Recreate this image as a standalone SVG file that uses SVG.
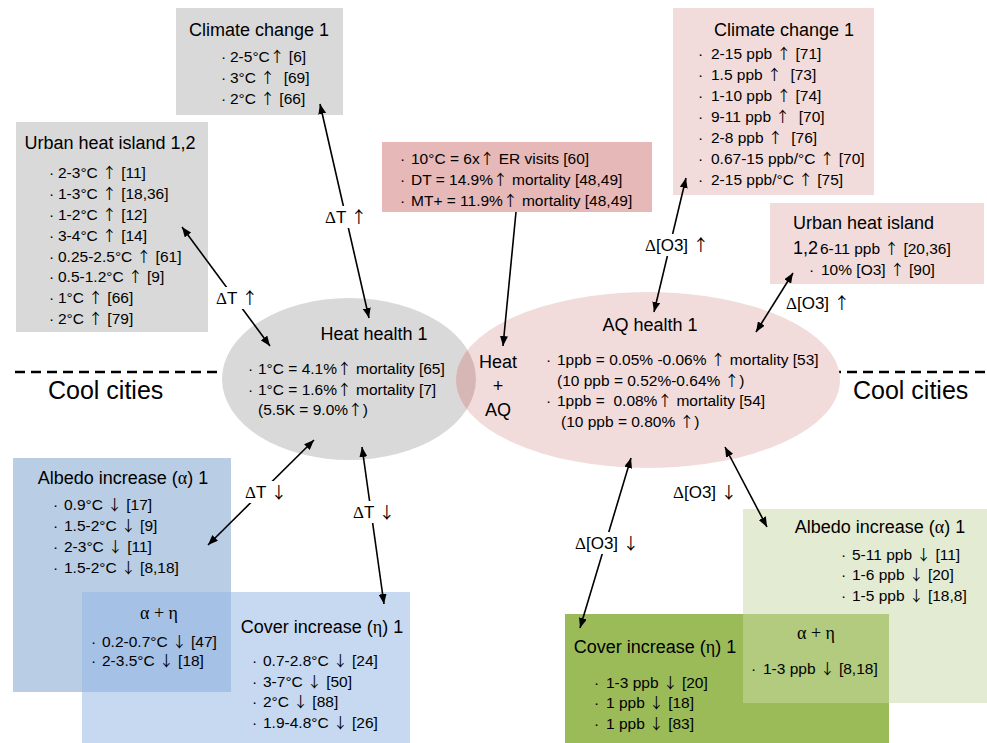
<svg xmlns="http://www.w3.org/2000/svg" width="987" height="743" viewBox="0 0 987 743">
<style>
text { font-family: "Liberation Sans", Arial, sans-serif; fill: #000; }
.t { font-size: 18px; }
.i { font-size: 15.5px; white-space: pre; }
.lb { font-size: 17px; white-space: pre; }
.cc { font-size: 25px; }
.s { font-family: "Liberation Serif", serif; }
.a { font-family: "Noto Sans CJK SC", "DejaVu Sans", sans-serif; font-size: 0.95em; }
.m { text-anchor: middle; }
.ln { stroke: #000; stroke-width: 1.6; fill: none; }
</style>
<defs>
<marker id="ah" viewBox="0 0 10 8" refX="10" refY="4" markerWidth="10" markerHeight="8" orient="auto-start-reverse" markerUnits="userSpaceOnUse"><path d="M0,0 L10,4 L0,8 z" fill="#000"/></marker>
<clipPath id="heatClip"><ellipse cx="349" cy="379" rx="127" ry="81"/></clipPath>
</defs>
<rect x="0" y="0" width="987" height="743" fill="#fff"/>

<line x1="15" y1="372" x2="985" y2="372" stroke="#000" stroke-width="2.5" stroke-dasharray="10,6"/>

<g id="climate-left">
<rect x="176" y="8" width="167" height="107" fill="#d9d9d9"/>
<text class="t m" x="259" y="36">Climate change 1</text>
<text class="i"><tspan x="221" y="62">·</tspan><tspan x="230">2-5°C<tspan class="a">↑</tspan> [6]</tspan></text>
<text class="i"><tspan x="221" y="83">·</tspan><tspan x="230">3°C <tspan class="a">↑</tspan>  [69]</tspan></text>
<text class="i"><tspan x="221" y="104">·</tspan><tspan x="230">2°C <tspan class="a">↑</tspan> [66]</tspan></text>
</g>

<g id="uhi-left">
<rect x="16" y="122" width="192" height="210" fill="#d9d9d9"/>
<text class="t m" x="110" y="149">Urban heat island 1,2</text>
<text class="i"><tspan x="49" y="178">·</tspan><tspan x="58">2-3°C <tspan class="a">↑</tspan> [11]</tspan></text>
<text class="i"><tspan x="49" y="199">·</tspan><tspan x="58">1-3°C <tspan class="a">↑</tspan> [18,36]</tspan></text>
<text class="i"><tspan x="49" y="220">·</tspan><tspan x="58">1-2°C <tspan class="a">↑</tspan> [12]</tspan></text>
<text class="i"><tspan x="49" y="241">·</tspan><tspan x="58">3-4°C <tspan class="a">↑</tspan> [14]</tspan></text>
<text class="i"><tspan x="49" y="262">·</tspan><tspan x="58">0.25-2.5°C <tspan class="a">↑</tspan> [61]</tspan></text>
<text class="i"><tspan x="49" y="282">·</tspan><tspan x="58">0.5-1.2°C <tspan class="a">↑</tspan> [9]</tspan></text>
<text class="i"><tspan x="49" y="303">·</tspan><tspan x="58">1°C <tspan class="a">↑</tspan> [66]</tspan></text>
<text class="i"><tspan x="49" y="324">·</tspan><tspan x="58">2°C <tspan class="a">↑</tspan> [79]</tspan></text>
</g>

<g id="heat-effects">
<rect x="382" y="142" width="270" height="70" fill="#e6b9b8"/>
<text class="i"><tspan x="400" y="164">·</tspan><tspan x="411">10°C = 6x<tspan class="a">↑</tspan> ER visits [60]</tspan></text>
<text class="i"><tspan x="400" y="185">·</tspan><tspan x="411">DT = 14.9%<tspan class="a">↑</tspan> mortality [48,49]</tspan></text>
<text class="i"><tspan x="400" y="206">·</tspan><tspan x="411">MT+ = 11.9%<tspan class="a">↑</tspan> mortality [48,49]</tspan></text>
</g>

<g id="climate-right">
<rect x="673" y="8" width="201" height="187" fill="#f2dcdb"/>
<text class="t m" x="784" y="36">Climate change 1</text>
<text class="i"><tspan x="698" y="59">·</tspan><tspan x="711">2-15 ppb <tspan class="a">↑</tspan> [71]</tspan></text>
<text class="i"><tspan x="698" y="80">·</tspan><tspan x="711">1.5 ppb <tspan class="a">↑</tspan>  [73]</tspan></text>
<text class="i"><tspan x="698" y="101">·</tspan><tspan x="711">1-10 ppb <tspan class="a">↑</tspan> [74]</tspan></text>
<text class="i"><tspan x="698" y="122">·</tspan><tspan x="711">9-11 ppb <tspan class="a">↑</tspan>  [70]</tspan></text>
<text class="i"><tspan x="698" y="143">·</tspan><tspan x="711">2-8 ppb <tspan class="a">↑</tspan>  [76]</tspan></text>
<text class="i"><tspan x="698" y="164">·</tspan><tspan x="711">0.67-15 ppb/°C <tspan class="a">↑</tspan> [70]</tspan></text>
<text class="i"><tspan x="698" y="185">·</tspan><tspan x="711">2-15 ppb/°C <tspan class="a">↑</tspan> [75]</tspan></text>
</g>

<g id="uhi-right">
<rect x="770" y="203" width="214" height="81" fill="#f2dcdb"/>
<text class="t" x="793" y="229">Urban heat island</text>
<text><tspan class="t" x="793" y="254">1,2</tspan><tspan class="i" x="820">6-11 ppb <tspan class="a">↑</tspan> [20,36]</tspan></text>
<text class="i"><tspan x="809" y="275">·</tspan><tspan x="821">10% [O3] <tspan class="a">↑</tspan> [90]</tspan></text>
</g>

<g id="heat-health">
<ellipse cx="349" cy="379" rx="127" ry="81" fill="#d9d9d9"/>
</g>
<g id="aq-health">
<ellipse cx="648" cy="380" rx="192" ry="88" fill="#f2dcdb"/>
</g>
<g id="heat-aq">
<ellipse cx="648" cy="380" rx="192" ry="88" fill="#d7b6b6" clip-path="url(#heatClip)"/>
<text class="t m" x="498" y="368">Heat</text>
<text class="t m" x="498" y="392">+</text>
<text class="t m" x="498" y="416">AQ</text>
</g>
<g id="heat-health-text">
<text class="t m" x="374" y="340">Heat health 1</text>
<text class="i"><tspan x="248" y="374">·</tspan><tspan x="258">1°C = 4.1%<tspan class="a">↑</tspan> mortality [65]</tspan></text>
<text class="i"><tspan x="248" y="395">·</tspan><tspan x="258">1°C = 1.6%<tspan class="a">↑</tspan> mortality [7]</tspan></text>
<text class="i" x="258" y="415">(5.5K = 9.0%<tspan class="a">↑</tspan>)</text>
</g>
<g id="aq-health-text">
<text class="t m" x="650" y="331">AQ health 1</text>
<text class="i"><tspan x="546" y="365">·</tspan><tspan x="557">1ppb = 0.05% -0.06% <tspan class="a">↑</tspan> mortality [53]</tspan></text>
<text class="i" x="557" y="386">(10 ppb = 0.52%-0.64% <tspan class="a">↑</tspan>)</text>
<text class="i"><tspan x="546" y="406">·</tspan><tspan x="557">1ppb =  0.08%<tspan class="a">↑</tspan> mortality [54]</tspan></text>
<text class="i" x="561" y="427">(10 ppb = 0.80% <tspan class="a">↑</tspan>)</text>
</g>

<g id="cool-cities">
<text class="cc" x="48" y="399">Cool cities</text>
<text class="cc" x="853" y="399">Cool cities</text>
</g>

<g id="albedo-left">
<rect x="13" y="458" width="218" height="234" fill="#b9cde5"/>
<text class="t m" x="123" y="484">Albedo increase (<tspan class="s">α</tspan>) 1</text>
<text class="i"><tspan x="53" y="510">·</tspan><tspan x="64">0.9°C <tspan class="a">↓</tspan> [17]</tspan></text>
<text class="i"><tspan x="53" y="531">·</tspan><tspan x="64">1.5-2°C <tspan class="a">↓</tspan> [9]</tspan></text>
<text class="i"><tspan x="53" y="552">·</tspan><tspan x="64">2-3°C <tspan class="a">↓</tspan> [11]</tspan></text>
<text class="i"><tspan x="53" y="573">·</tspan><tspan x="64">1.5-2°C <tspan class="a">↓</tspan> [8,18]</tspan></text>
</g>
<g id="cover-left">
<rect x="82" y="592" width="328" height="151" fill="#c6d9f1"/>
<text class="t m" x="322" y="633">Cover increase (<tspan class="s">η</tspan>) 1</text>
<text class="i"><tspan x="252" y="666">·</tspan><tspan x="263">0.7-2.8°C <tspan class="a">↓</tspan> [24]</tspan></text>
<text class="i"><tspan x="252" y="687">·</tspan><tspan x="263">3-7°C <tspan class="a">↓</tspan> [50]</tspan></text>
<text class="i"><tspan x="252" y="707">·</tspan><tspan x="263">2°C <tspan class="a">↓</tspan> [88]</tspan></text>
<text class="i"><tspan x="252" y="728">·</tspan><tspan x="263">1.9-4.8°C <tspan class="a">↓</tspan> [26]</tspan></text>
</g>
<g id="alpha-eta-left">
<rect x="82" y="592" width="149" height="100" fill="#a6c1e6"/>
<text class="t m s" x="159" y="619">α + η</text>
<text class="i"><tspan x="91" y="647">·</tspan><tspan x="102">0.2-0.7°C <tspan class="a">↓</tspan> [47]</tspan></text>
<text class="i"><tspan x="91" y="666">·</tspan><tspan x="102">2-3.5°C <tspan class="a">↓</tspan> [18]</tspan></text>
</g>

<g id="albedo-right">
<rect x="743" y="509" width="244" height="194" fill="#e3ebd3"/>
<text class="t m" x="880" y="533">Albedo increase (<tspan class="s">α</tspan>) 1</text>
<text class="i"><tspan x="841" y="560">·</tspan><tspan x="852">5-11 ppb <tspan class="a">↓</tspan> [11]</tspan></text>
<text class="i"><tspan x="841" y="580">·</tspan><tspan x="852">1-6 ppb <tspan class="a">↓</tspan> [20]</tspan></text>
<text class="i"><tspan x="841" y="601">·</tspan><tspan x="852">1-5 ppb <tspan class="a">↓</tspan> [18,8]</tspan></text>
</g>
<g id="cover-right">
<rect x="565" y="614" width="324" height="129" fill="#9bbb59"/>
<text class="t m" x="655" y="653">Cover increase (<tspan class="s">η</tspan>) 1</text>
<text class="i"><tspan x="594" y="688">·</tspan><tspan x="606">1-3 ppb <tspan class="a">↓</tspan> [20]</tspan></text>
<text class="i"><tspan x="594" y="708">·</tspan><tspan x="606">1 ppb <tspan class="a">↓</tspan> [18]</tspan></text>
<text class="i"><tspan x="594" y="729">·</tspan><tspan x="606">1 ppb <tspan class="a">↓</tspan> [83]</tspan></text>
</g>
<g id="alpha-eta-right">
<rect x="743" y="614" width="146" height="89" fill="#b2cb7e"/>
<text class="t m s" x="816" y="639">α + η</text>
<text class="i"><tspan x="751" y="674">·</tspan><tspan x="763">1-3 ppb <tspan class="a">↓</tspan> [8,18]</tspan></text>
</g>

<g id="connectors">
<line class="ln" x1="320" y1="104" x2="369" y2="318" marker-start="url(#ah)" marker-end="url(#ah)"/>
<line class="ln" x1="182" y1="227" x2="270" y2="346" marker-start="url(#ah)" marker-end="url(#ah)"/>
<line class="ln" x1="314" y1="440" x2="208" y2="545" marker-start="url(#ah)" marker-end="url(#ah)"/>
<line class="ln" x1="362" y1="447" x2="384" y2="604" marker-start="url(#ah)" marker-end="url(#ah)"/>
<line class="ln" x1="516" y1="212" x2="503" y2="346" marker-end="url(#ah)"/>
<line class="ln" x1="686" y1="178" x2="654" y2="312" marker-start="url(#ah)" marker-end="url(#ah)"/>
<line class="ln" x1="793" y1="273" x2="756" y2="332" marker-start="url(#ah)" marker-end="url(#ah)"/>
<line class="ln" x1="631" y1="458" x2="580" y2="628" marker-start="url(#ah)" marker-end="url(#ah)"/>
<line class="ln" x1="725" y1="447" x2="767" y2="527" marker-start="url(#ah)" marker-end="url(#ah)"/>
<rect x="322" y="206" width="50" height="22" fill="#fff"/>
<text class="lb m" x="346" y="223"><tspan class="s">Δ</tspan>T <tspan class="a">↑</tspan></text>
<rect x="213" y="287" width="50" height="22" fill="#fff"/>
<text class="lb m" x="237" y="304"><tspan class="s">Δ</tspan>T <tspan class="a">↑</tspan></text>
<rect x="242" y="481" width="50" height="22" fill="#fff"/>
<text class="lb m" x="266" y="498"><tspan class="s">Δ</tspan>T <tspan class="a">↓</tspan></text>
<rect x="350" y="501" width="50" height="22" fill="#fff"/>
<text class="lb m" x="374" y="518"><tspan class="s">Δ</tspan>T <tspan class="a">↓</tspan></text>
<rect x="642" y="234" width="70" height="22" fill="#fff"/>
<text class="lb m" x="677" y="251"><tspan class="s">Δ</tspan>[O3] <tspan class="a">↑</tspan></text>
<text class="lb m" x="818" y="309"><tspan class="s">Δ</tspan>[O3] <tspan class="a">↑</tspan></text>
<rect x="572" y="532" width="70" height="22" fill="#fff"/>
<text class="lb m" x="607" y="549"><tspan class="s">Δ</tspan>[O3] <tspan class="a">↓</tspan></text>
<text class="lb m" x="705" y="498"><tspan class="s">Δ</tspan>[O3] <tspan class="a">↓</tspan></text>
</g>
</svg>
